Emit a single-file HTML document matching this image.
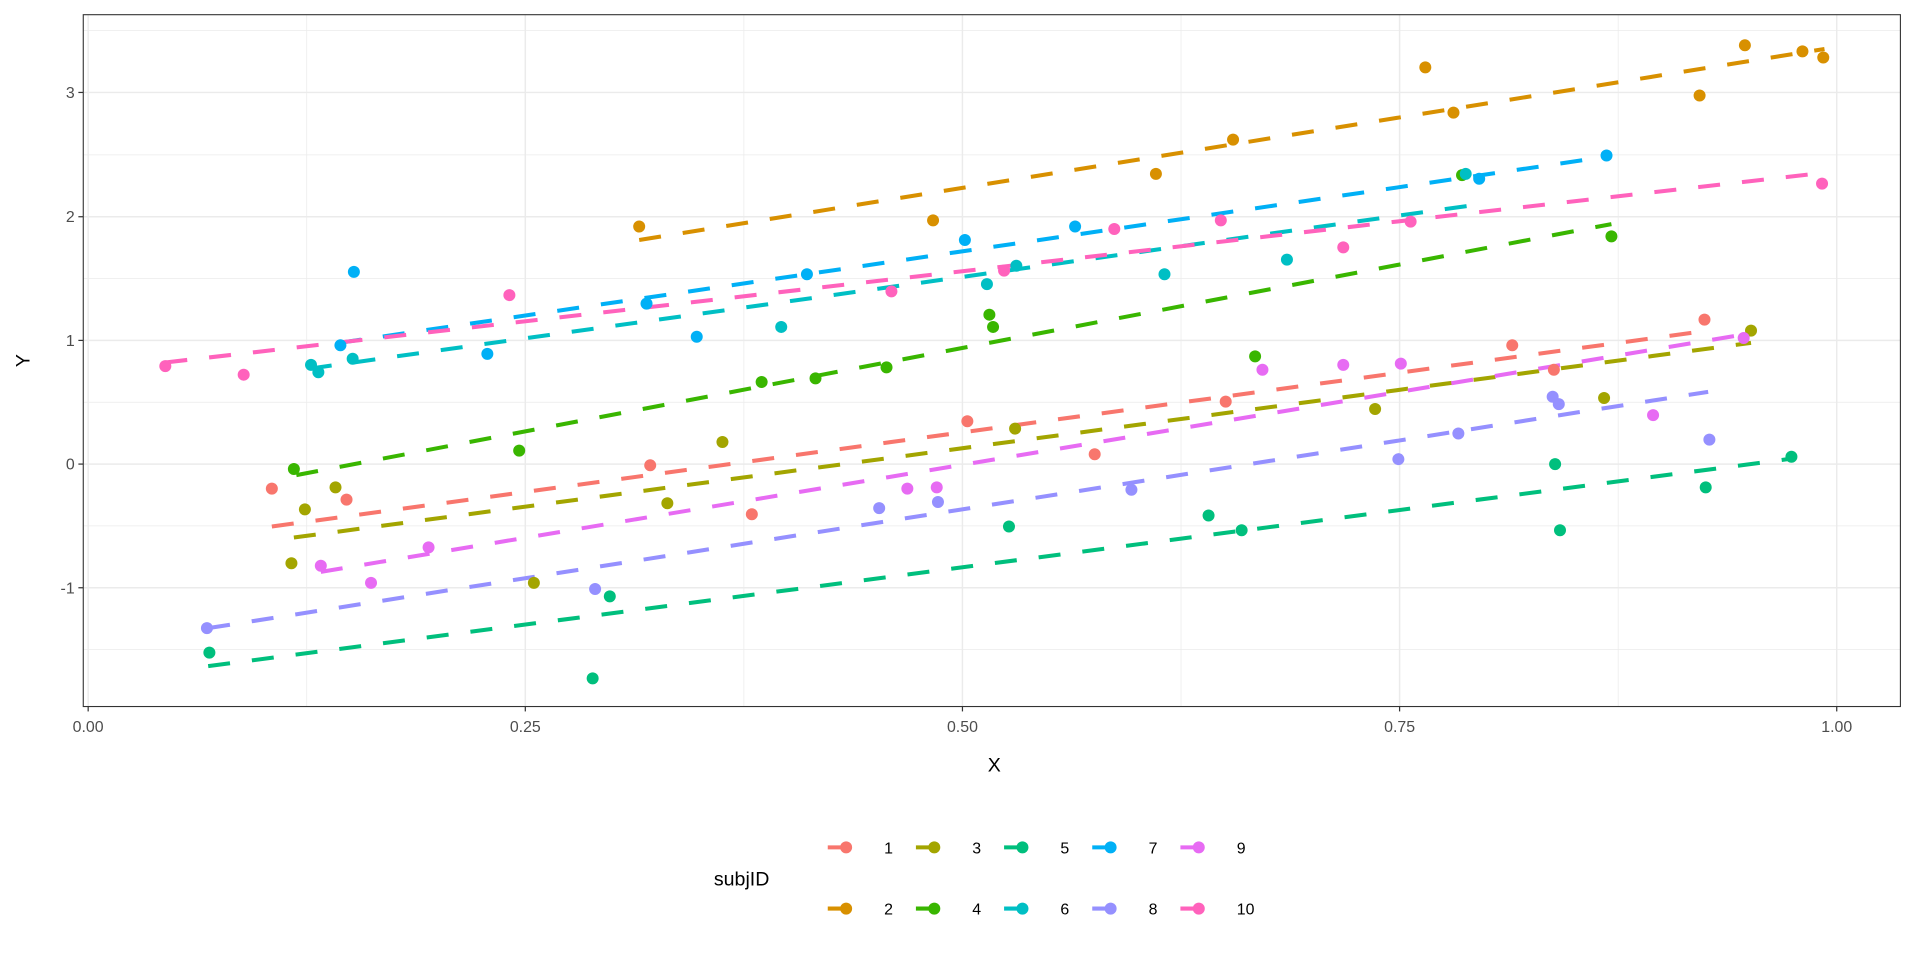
<!DOCTYPE html>
<html><head><meta charset="utf-8"><style>html,body{margin:0;padding:0;background:#fff}svg{display:block}</style></head>
<body>
<svg width="1920" height="960" viewBox="0 0 1568 784" xmlns="http://www.w3.org/2000/svg" font-family="Liberation Sans, Arial, sans-serif">
<rect width="1568" height="784" fill="#fff"/>
<g stroke="#ebebeb" stroke-width="0.6">
<line x1="68" x2="1552" y1="126.5" y2="126.5"/><line x1="68" x2="1552" y1="227.5" y2="227.5"/><line x1="68" x2="1552" y1="328.5" y2="328.5"/><line x1="68" x2="1552" y1="429.5" y2="429.5"/><line x1="68" x2="1552" y1="530.5" y2="530.5"/><line x1="68" x2="1552" y1="25" y2="25"/>
<line y1="12" y2="577" x1="250.5" x2="250.5"/><line y1="12" y2="577" x1="607.5" x2="607.5"/><line y1="12" y2="577" x1="964.5" x2="964.5"/><line y1="12" y2="577" x1="1321.5" x2="1321.5"/>
</g>
<g stroke="#ebebeb" stroke-width="1.2">
<line x1="68" x2="1552" y1="75.5" y2="75.5"/><line x1="68" x2="1552" y1="177" y2="177"/><line x1="68" x2="1552" y1="278" y2="278"/><line x1="68" x2="1552" y1="379" y2="379"/><line x1="68" x2="1552" y1="480" y2="480"/>
<line y1="12" y2="577" x1="72" x2="72"/><line y1="12" y2="577" x1="429" x2="429"/><line y1="12" y2="577" x1="786" x2="786"/><line y1="12" y2="577" x1="1143" x2="1143"/><line y1="12" y2="577" x1="1500" x2="1500"/>
</g>
<g stroke-width="3.3" stroke-dasharray="18 18" fill="none">
<line x1="222" y1="430" x2="1395" y2="270" stroke="#F8766D"/>
<line x1="522" y1="196" x2="1490" y2="40" stroke="#D89000"/>
<line x1="240" y1="439" x2="1430" y2="280" stroke="#A3A500"/>
<line x1="242" y1="388" x2="1316" y2="183" stroke="#39B600"/>
<line x1="170" y1="544" x2="1460" y2="375" stroke="#00BF7D"/>
<line x1="253" y1="301" x2="1200" y2="168" stroke="#00BFC4"/>
<line x1="277" y1="280" x2="1312" y2="128" stroke="#00B0F6"/>
<line x1="170" y1="513" x2="1395" y2="320" stroke="#9590FF"/>
<line x1="262" y1="467" x2="1425" y2="273" stroke="#E76BF3"/>
<line x1="135" y1="296" x2="1490" y2="141" stroke="#FF62BC"/>
</g>
<g>
<g fill="#F8766D"><circle cx="222" cy="399" r="4.9"/><circle cx="283" cy="408" r="4.9"/><circle cx="531" cy="380" r="4.9"/><circle cx="614" cy="420" r="4.9"/><circle cx="790" cy="344" r="4.9"/><circle cx="894" cy="371" r="4.9"/><circle cx="1001" cy="328" r="4.9"/><circle cx="1235" cy="282" r="4.9"/><circle cx="1392" cy="261" r="4.9"/><circle cx="1269" cy="302" r="4.9"/></g>
<g fill="#D89000"><circle cx="522" cy="185" r="4.9"/><circle cx="762" cy="180" r="4.9"/><circle cx="944" cy="142" r="4.9"/><circle cx="1007" cy="114" r="4.9"/><circle cx="1164" cy="55" r="4.9"/><circle cx="1187" cy="92" r="4.9"/><circle cx="1388" cy="78" r="4.9"/><circle cx="1425" cy="37" r="4.9"/><circle cx="1472" cy="42" r="4.9"/><circle cx="1489" cy="47" r="4.9"/></g>
<g fill="#A3A500"><circle cx="249" cy="416" r="4.9"/><circle cx="274" cy="398" r="4.9"/><circle cx="238" cy="460" r="4.9"/><circle cx="590" cy="361" r="4.9"/><circle cx="545" cy="411" r="4.9"/><circle cx="436" cy="476" r="4.9"/><circle cx="829" cy="350" r="4.9"/><circle cx="1123" cy="334" r="4.9"/><circle cx="1310" cy="325" r="4.9"/><circle cx="1430" cy="270" r="4.9"/></g>
<g fill="#39B600"><circle cx="240" cy="383" r="4.9"/><circle cx="424" cy="368" r="4.9"/><circle cx="622" cy="312" r="4.9"/><circle cx="666" cy="309" r="4.9"/><circle cx="724" cy="300" r="4.9"/><circle cx="808" cy="257" r="4.9"/><circle cx="811" cy="267" r="4.9"/><circle cx="1025" cy="291" r="4.9"/><circle cx="1316" cy="193" r="4.9"/><circle cx="1194" cy="143" r="4.9"/></g>
<g fill="#00BF7D"><circle cx="171" cy="533" r="4.9"/><circle cx="484" cy="554" r="4.9"/><circle cx="498" cy="487" r="4.9"/><circle cx="824" cy="430" r="4.9"/><circle cx="987" cy="421" r="4.9"/><circle cx="1014" cy="433" r="4.9"/><circle cx="1270" cy="379" r="4.9"/><circle cx="1274" cy="433" r="4.9"/><circle cx="1393" cy="398" r="4.9"/><circle cx="1463" cy="373" r="4.9"/></g>
<g fill="#00BFC4"><circle cx="254" cy="298" r="4.9"/><circle cx="260" cy="304" r="4.9"/><circle cx="288" cy="293" r="4.9"/><circle cx="638" cy="267" r="4.9"/><circle cx="806" cy="232" r="4.9"/><circle cx="830" cy="217" r="4.9"/><circle cx="951" cy="224" r="4.9"/><circle cx="1051" cy="212" r="4.9"/><circle cx="1197" cy="142" r="4.9"/></g>
<g fill="#00B0F6"><circle cx="289" cy="222" r="4.9"/><circle cx="278" cy="282" r="4.9"/><circle cx="398" cy="289" r="4.9"/><circle cx="528" cy="248" r="4.9"/><circle cx="569" cy="275" r="4.9"/><circle cx="659" cy="224" r="4.9"/><circle cx="788" cy="196" r="4.9"/><circle cx="878" cy="185" r="4.9"/><circle cx="1208" cy="146" r="4.9"/><circle cx="1312" cy="127" r="4.9"/></g>
<g fill="#9590FF"><circle cx="169" cy="513" r="4.9"/><circle cx="486" cy="481" r="4.9"/><circle cx="718" cy="415" r="4.9"/><circle cx="766" cy="410" r="4.9"/><circle cx="924" cy="400" r="4.9"/><circle cx="1142" cy="375" r="4.9"/><circle cx="1191" cy="354" r="4.9"/><circle cx="1268" cy="324" r="4.9"/><circle cx="1273" cy="330" r="4.9"/><circle cx="1396" cy="359" r="4.9"/></g>
<g fill="#E76BF3"><circle cx="262" cy="462" r="4.9"/><circle cx="303" cy="476" r="4.9"/><circle cx="350" cy="447" r="4.9"/><circle cx="741" cy="399" r="4.9"/><circle cx="765" cy="398" r="4.9"/><circle cx="1031" cy="302" r="4.9"/><circle cx="1144" cy="297" r="4.9"/><circle cx="1097" cy="298" r="4.9"/><circle cx="1350" cy="339" r="4.9"/><circle cx="1424" cy="276" r="4.9"/></g>
<g fill="#FF62BC"><circle cx="135" cy="299" r="4.9"/><circle cx="199" cy="306" r="4.9"/><circle cx="416" cy="241" r="4.9"/><circle cx="728" cy="238" r="4.9"/><circle cx="820" cy="221" r="4.9"/><circle cx="910" cy="187" r="4.9"/><circle cx="997" cy="180" r="4.9"/><circle cx="1097" cy="202" r="4.9"/><circle cx="1152" cy="181" r="4.9"/><circle cx="1488" cy="150" r="4.9"/></g>
</g>
<rect x="68" y="12" width="1484" height="565" fill="none" stroke="#333" stroke-width="0.9"/>
<g stroke="#333" stroke-width="1">
<line x1="64" x2="68" y1="75.5" y2="75.5"/><line x1="64" x2="68" y1="177" y2="177"/><line x1="64" x2="68" y1="278" y2="278"/><line x1="64" x2="68" y1="379" y2="379"/><line x1="64" x2="68" y1="480" y2="480"/>
<line y1="577" y2="581" x1="72" x2="72"/><line y1="577" y2="581" x1="429" x2="429"/><line y1="577" y2="581" x1="786" x2="786"/><line y1="577" y2="581" x1="1143" x2="1143"/><line y1="577" y2="581" x1="1500" x2="1500"/>
</g>
<g fill="#4d4d4d" font-size="13" text-anchor="end">
<text x="61" y="80">3</text><text x="61" y="181.5">2</text><text x="61" y="282.5">1</text><text x="61" y="383.5">0</text><text x="61" y="484.5">-1</text>
</g>
<g fill="#4d4d4d" font-size="13" text-anchor="middle">
<text x="72" y="598">0.00</text><text x="429" y="598">0.25</text><text x="786" y="598">0.50</text><text x="1143" y="598">0.75</text><text x="1500" y="598">1.00</text>
</g>
<text x="812" y="630" font-size="16" text-anchor="middle">X</text>
<text transform="translate(24,294.5) rotate(-90)" font-size="16" text-anchor="middle">Y</text>
<text x="583" y="723" font-size="16">subjID</text>
<g stroke-width="3.3">
<line x1="676" x2="690" y1="692" y2="692" stroke="#F8766D"/><circle cx="691" cy="692" r="4.9" fill="#F8766D"/>
<line x1="748" x2="762" y1="692" y2="692" stroke="#A3A500"/><circle cx="763" cy="692" r="4.9" fill="#A3A500"/>
<line x1="820" x2="834" y1="692" y2="692" stroke="#00BF7D"/><circle cx="835" cy="692" r="4.9" fill="#00BF7D"/>
<line x1="892" x2="906" y1="692" y2="692" stroke="#00B0F6"/><circle cx="907" cy="692" r="4.9" fill="#00B0F6"/>
<line x1="964" x2="978" y1="692" y2="692" stroke="#E76BF3"/><circle cx="979" cy="692" r="4.9" fill="#E76BF3"/>
<line x1="676" x2="690" y1="742" y2="742" stroke="#D89000"/><circle cx="691" cy="742" r="4.9" fill="#D89000"/>
<line x1="748" x2="762" y1="742" y2="742" stroke="#39B600"/><circle cx="763" cy="742" r="4.9" fill="#39B600"/>
<line x1="820" x2="834" y1="742" y2="742" stroke="#00BFC4"/><circle cx="835" cy="742" r="4.9" fill="#00BFC4"/>
<line x1="892" x2="906" y1="742" y2="742" stroke="#9590FF"/><circle cx="907" cy="742" r="4.9" fill="#9590FF"/>
<line x1="964" x2="978" y1="742" y2="742" stroke="#FF62BC"/><circle cx="979" cy="742" r="4.9" fill="#FF62BC"/>
</g>
<g font-size="13" fill="#000">
<text x="722" y="697">1</text><text x="794" y="697">3</text><text x="866" y="697">5</text><text x="938" y="697">7</text><text x="1010" y="697">9</text>
<text x="722" y="747">2</text><text x="794" y="747">4</text><text x="866" y="747">6</text><text x="938" y="747">8</text><text x="1010" y="747">10</text>
</g>
</svg>
</body></html>
